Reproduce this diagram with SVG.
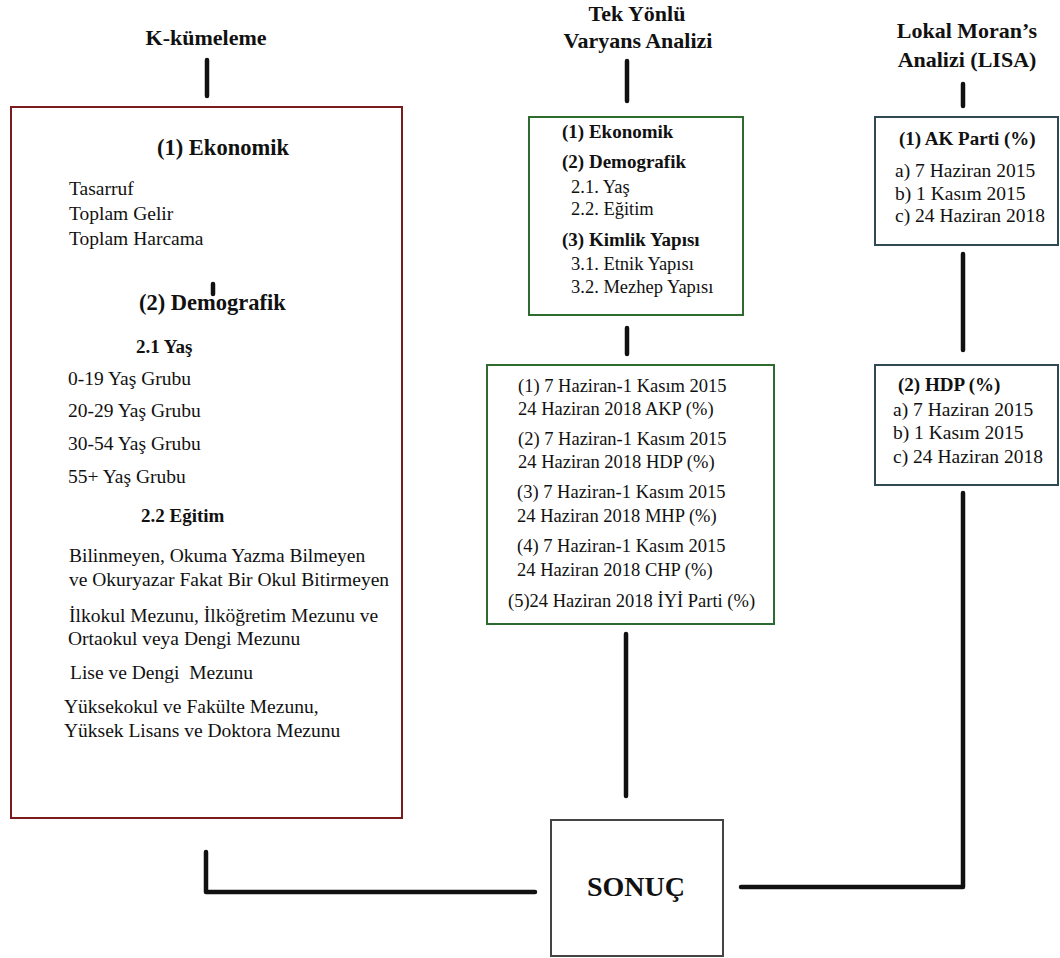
<svg xmlns="http://www.w3.org/2000/svg" width="1060" height="958" viewBox="0 0 1060 958">
<style>
text{font-family:"Liberation Serif",serif;fill:#111}
.t{font-size:22px;font-weight:bold;text-anchor:middle}
.h{font-size:22.5px;font-weight:bold}
.s{font-size:19px;font-weight:bold}
.r{font-size:19.5px}
.mb{font-size:19px;font-weight:bold}
.mr{font-size:18.5px}
.conn{fill:none;stroke:#111;stroke-width:4.5;stroke-linecap:round;stroke-linejoin:round}
.red{fill:none;stroke:#7b1c1c;stroke-width:2}
.green{fill:#fff;stroke:#2e6b2e;stroke-width:2}
.slate{fill:#fff;stroke:#2f4a55;stroke-width:2}
.gray{fill:#fff;stroke:#444;stroke-width:2}
</style>
<rect width="1060" height="958" fill="#fff"/>
<g font-family="Liberation Serif, serif">
<g id="titles">
<text class="t" x="206" y="45">K-kümeleme</text>
<text class="t" x="637" y="21">Tek Yönlü</text>
<text class="t" x="638" y="48">Varyans Analizi</text>
<text class="t" x="967" y="38">Lokal Moran’s</text>
<text class="t" x="967" y="67">Analizi (LISA)</text>
</g>
<g id="connectors">
<line class="conn" x1="207" y1="60" x2="207" y2="96"/>
<line class="conn" x1="213" y1="284" x2="213" y2="294"/>
<path class="conn" d="M206,852 V892 H535"/>
<line class="conn" x1="627" y1="61" x2="627" y2="101"/>
<line class="conn" x1="627" y1="328" x2="627" y2="354"/>
<line class="conn" x1="626" y1="634" x2="626" y2="796"/>
<line class="conn" x1="963" y1="84" x2="963" y2="106"/>
<line class="conn" x1="963" y1="254" x2="963" y2="350"/>
<path class="conn" d="M963,493 V887 H741"/>
</g>
<g id="kmeans">
<rect class="red" x="11" y="107" width="391" height="711"/>
<text class="h" x="157" y="155">(1) Ekonomik</text>
<text class="r" x="69" y="195">Tasarruf</text>
<text class="r" x="69" y="220">Toplam Gelir</text>
<text class="r" x="69" y="245">Toplam Harcama</text>
<text class="h" x="139" y="310">(2) Demografik</text>
<text class="s" x="136" y="353">2.1 Yaş</text>
<text class="r" x="68" y="385">0-19 Yaş Grubu</text>
<text class="r" x="68" y="417">20-29 Yaş Grubu</text>
<text class="r" x="68" y="450">30-54 Yaş Grubu</text>
<text class="r" x="68" y="483">55+ Yaş Grubu</text>
<text class="s" x="141" y="522">2.2 Eğitim</text>
<text class="r" x="69" y="562">Bilinmeyen, Okuma Yazma Bilmeyen</text>
<text class="r" x="69" y="586">ve Okuryazar Fakat Bir Okul Bitirmeyen</text>
<text class="r" x="69" y="622">İlkokul Mezunu, İlköğretim Mezunu ve</text>
<text class="r" x="68" y="645">Ortaokul veya Dengi Mezunu</text>
<text class="r" x="70" y="679" xml:space="preserve">Lise ve Dengi  Mezunu</text>
<text class="r" x="64" y="713">Yüksekokul ve Fakülte Mezunu,</text>
<text class="r" x="64" y="737">Yüksek Lisans ve Doktora Mezunu</text>
</g>
<g id="anova-vars">
<rect class="green" x="529" y="117" width="214" height="198"/>
<text class="mb" x="562" y="138">(1) Ekonomik</text>
<text class="mb" x="562" y="168">(2) Demografik</text>
<text class="mr" x="571" y="193">2.1. Yaş</text>
<text class="mr" x="571" y="215">2.2. Eğitim</text>
<text class="mb" x="562" y="246">(3) Kimlik Yapısı</text>
<text class="mr" x="571" y="270">3.1. Etnik Yapısı</text>
<text class="mr" x="571" y="293">3.2. Mezhep Yapısı</text>
</g>
<g id="anova-parties">
<rect class="green" x="487" y="365" width="287" height="259" stroke-width="1.6"/>
<text class="mr" x="518" y="392">(1) 7 Haziran-1 Kasım 2015</text>
<text class="mr" x="518" y="415">24 Haziran 2018 AKP (%)</text>
<text class="mr" x="518" y="445">(2) 7 Haziran-1 Kasım 2015</text>
<text class="mr" x="518" y="468">24 Haziran 2018 HDP (%)</text>
<text class="mr" x="517" y="498">(3) 7 Haziran-1 Kasım 2015</text>
<text class="mr" x="517" y="522">24 Haziran 2018 MHP (%)</text>
<text class="mr" x="517" y="552">(4) 7 Haziran-1 Kasım 2015</text>
<text class="mr" x="517" y="576">24 Haziran 2018 CHP (%)</text>
<text class="mr" x="508" y="607">(5)24 Haziran 2018 İYİ Parti (%)</text>
</g>
<g id="lisa-akp">
<rect class="slate" x="875" y="117" width="183" height="128"/>
<text class="mb" x="899" y="145">(1) AK Parti (%)</text>
<text class="r" x="895" y="177">a) 7 Haziran 2015</text>
<text class="r" x="895" y="200">b) 1 Kasım 2015</text>
<text class="r" x="895" y="222">c) 24 Haziran 2018</text>
</g>
<g id="lisa-hdp">
<rect class="slate" x="875" y="365" width="183" height="120"/>
<text class="mb" x="898" y="391">(2) HDP (%)</text>
<text class="r" x="893" y="416">a) 7 Haziran 2015</text>
<text class="r" x="893" y="439">b) 1 Kasım 2015</text>
<text class="r" x="893" y="463">c) 24 Haziran 2018</text>
</g>
<g id="sonuc">
<rect class="gray" x="551" y="820" width="172" height="136"/>
<text x="636" y="896" font-size="28" font-weight="bold" text-anchor="middle">SONUÇ</text>
</g>
</g>
</svg>
